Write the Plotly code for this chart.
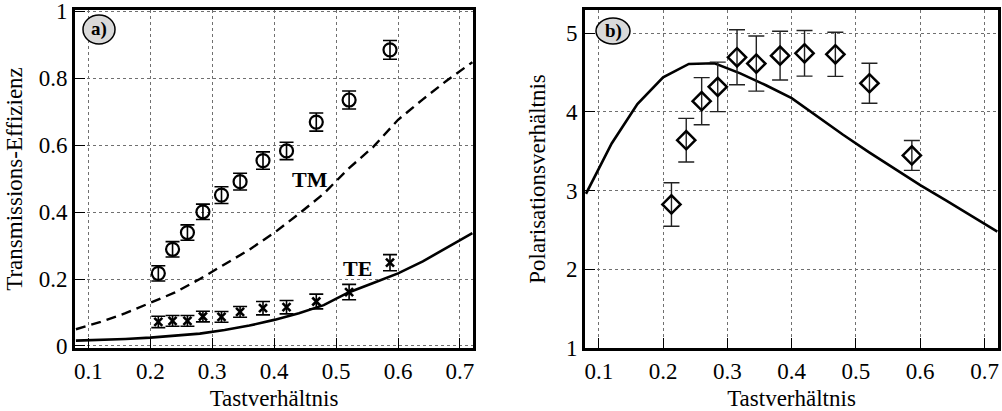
import plotly.graph_objects as go

# ---------------- data ----------------
duty = [0.213, 0.236, 0.260, 0.285, 0.315, 0.345, 0.382, 0.420, 0.468, 0.521, 0.587]
tm_meas = [0.217, 0.289, 0.339, 0.401, 0.451, 0.491, 0.554, 0.583, 0.669, 0.735, 0.885]
tm_err = [0.023, 0.023, 0.023, 0.023, 0.025, 0.025, 0.026, 0.026, 0.027, 0.027, 0.028]
te_meas = [0.072, 0.075, 0.075, 0.088, 0.087, 0.102, 0.113, 0.116, 0.133, 0.161, 0.249]
te_err = [0.017, 0.016, 0.016, 0.016, 0.016, 0.016, 0.020, 0.020, 0.022, 0.023, 0.024]
ratio_meas = [2.824, 3.641, 4.137, 4.319, 4.695, 4.615, 4.716, 4.746, 4.733, 4.365, 3.447]
ratio_err = [0.277, 0.277, 0.300, 0.315, 0.350, 0.350, 0.310, 0.290, 0.280, 0.254, 0.190]

theory_x = [0.08, 0.12, 0.16, 0.20, 0.24, 0.28, 0.32, 0.36, 0.40, 0.44, 0.48,
            0.52, 0.56, 0.60, 0.64, 0.68, 0.72]
tm_theory = [0.050, 0.072, 0.098, 0.128, 0.160, 0.200, 0.245, 0.288, 0.338, 0.395,
             0.455, 0.530, 0.595, 0.676, 0.737, 0.795, 0.848]
te_theory = [0.016, 0.018, 0.021, 0.025, 0.031, 0.037, 0.048, 0.061, 0.078, 0.098,
             0.122, 0.160, 0.188, 0.217, 0.253, 0.294, 0.337]
ratio_theory = [2.96, 3.60, 4.10, 4.44, 4.61, 4.62, 4.49, 4.34, 4.175, 3.94, 3.71,
                3.49, 3.28, 3.07, 2.876, 2.678, 2.48]

x_ticks = [0.1, 0.2, 0.3, 0.4, 0.5, 0.6, 0.7]
y_ticks_a = [0, 0.2, 0.4, 0.6, 0.8, 1]
y_ticks_b = [1, 2, 3, 4, 5]

FONT = "Liberation Serif, Times New Roman, serif"
W, H = 1002, 411

fig = go.Figure()

# ---- panel a ----
fig.add_trace(go.Scatter(x=theory_x, y=tm_theory, mode="lines",
                         line=dict(color="black", width=2.4, dash="10px,6px"),
                         xaxis="x", yaxis="y", showlegend=False))
fig.add_trace(go.Scatter(x=theory_x, y=te_theory, mode="lines",
                         line=dict(color="black", width=2.6),
                         xaxis="x", yaxis="y", showlegend=False))
fig.add_trace(go.Scatter(x=duty, y=tm_meas, mode="markers",
                         marker=dict(symbol="circle-open", size=13, color="black",
                                     line=dict(width=2.2, color="black")),
                         error_y=dict(type="data", array=tm_err, color="black",
                                      thickness=1.6, width=7),
                         xaxis="x", yaxis="y", showlegend=False))
fig.add_trace(go.Scatter(x=duty, y=te_meas, mode="markers",
                         marker=dict(symbol="x-thin-open", size=8, color="black",
                                     line=dict(width=2.6, color="black")),
                         error_y=dict(type="data", array=te_err, color="black",
                                      thickness=1.6, width=7),
                         xaxis="x", yaxis="y", showlegend=False))

# ---- panel b ----
fig.add_trace(go.Scatter(x=theory_x, y=ratio_theory, mode="lines",
                         line=dict(color="black", width=2.6),
                         xaxis="x2", yaxis="y2", showlegend=False))
fig.add_trace(go.Scatter(x=duty, y=ratio_meas, mode="markers",
                         marker=dict(symbol="diamond-open", size=14, color="black",
                                     line=dict(width=2.5, color="black")),
                         error_y=dict(type="data", array=ratio_err, color="#222",
                                      thickness=1.4, width=8),
                         xaxis="x2", yaxis="y2", showlegend=False))


def px_x(p):
    return p / W


def px_y(p):
    return 1 - p / H


axis_common = dict(
    showline=True, linecolor="black", linewidth=3, mirror=True,
    showgrid=True, gridcolor="#707070", gridwidth=1, griddash="dot",
    ticks="inside", ticklen=10, tickwidth=1.4, tickcolor="black",
    zeroline=False, ticklabeloverflow="allow",
    tickfont=dict(family=FONT, size=23, color="black"),
    title_font=dict(family=FONT, size=23, color="black"),
)

fig.update_layout(
    width=W, height=H,
    margin=dict(l=0, r=0, t=0, b=0, autoexpand=False),
    paper_bgcolor="white", plot_bgcolor="white",
    font=dict(family=FONT, color="black"),
    xaxis=dict(domain=[px_x(75), px_x(473)], range=[0.0785, 0.721],
               tickvals=x_ticks, ticktext=[str(v) for v in x_ticks],
               ticklabelstandoff=0,
               title=dict(text="Tastverhältnis", standoff=20),
               anchor="y", **axis_common),
    yaxis=dict(domain=[px_y(348), px_y(10)], range=[-0.006, 1.004],
               tickvals=y_ticks_a, ticktext=["0", "0.2", "0.4", "0.6", "0.8", "1"],
               title=dict(text="Transmissions-Effizienz", standoff=10),
               anchor="x", **axis_common),
    xaxis2=dict(domain=[px_x(585), px_x(998)], range=[0.0785, 0.721],
                tickvals=x_ticks, ticktext=[str(v) for v in x_ticks],
                ticklabelstandoff=0,
                title=dict(text="Tastverhältnis", standoff=20),
                anchor="y2", **axis_common),
    yaxis2=dict(domain=[px_y(348), px_y(10)], range=[1, 5.296],
                tickvals=y_ticks_b, ticktext=[str(v) for v in y_ticks_b],
                title=dict(text="Polarisationsverhältnis", standoff=14),
                anchor="x2", **axis_common),
)

# curve labels
fig.add_annotation(x=0.458, y=0.497, xref="x", yref="y", text="<b>TM</b>",
                   showarrow=False, font=dict(family=FONT, size=22, color="black"))
fig.add_annotation(x=0.535, y=0.233, xref="x", yref="y", text="<b>TE</b>",
                   showarrow=False, font=dict(family=FONT, size=22, color="black"))

# panel labels in grey ellipses
for (x0, x1, y0, y1, lab) in [(83, 115, 15, 44, "a)"), (596, 630, 18, 44, "b)")]:
    fig.add_shape(type="circle", xref="paper", yref="paper",
                  x0=px_x(x0), x1=px_x(x1), y0=px_y(y1), y1=px_y(y0),
                  fillcolor="#d9d9d9", line=dict(color="black", width=1.5),
                  layer="above")
    fig.add_annotation(x=px_x((x0 + x1) / 2), y=px_y((y0 + y1) / 2),
                       xref="paper", yref="paper", text="<b>%s</b>" % lab,
                       xanchor="center", yanchor="middle", showarrow=False,
                       font=dict(family=FONT, size=19, color="black"))

fig.write_html("out.html",
               config={"displayModeBar": False},
               post_script="document.body.style.margin='0';document.body.style.padding='0';")
